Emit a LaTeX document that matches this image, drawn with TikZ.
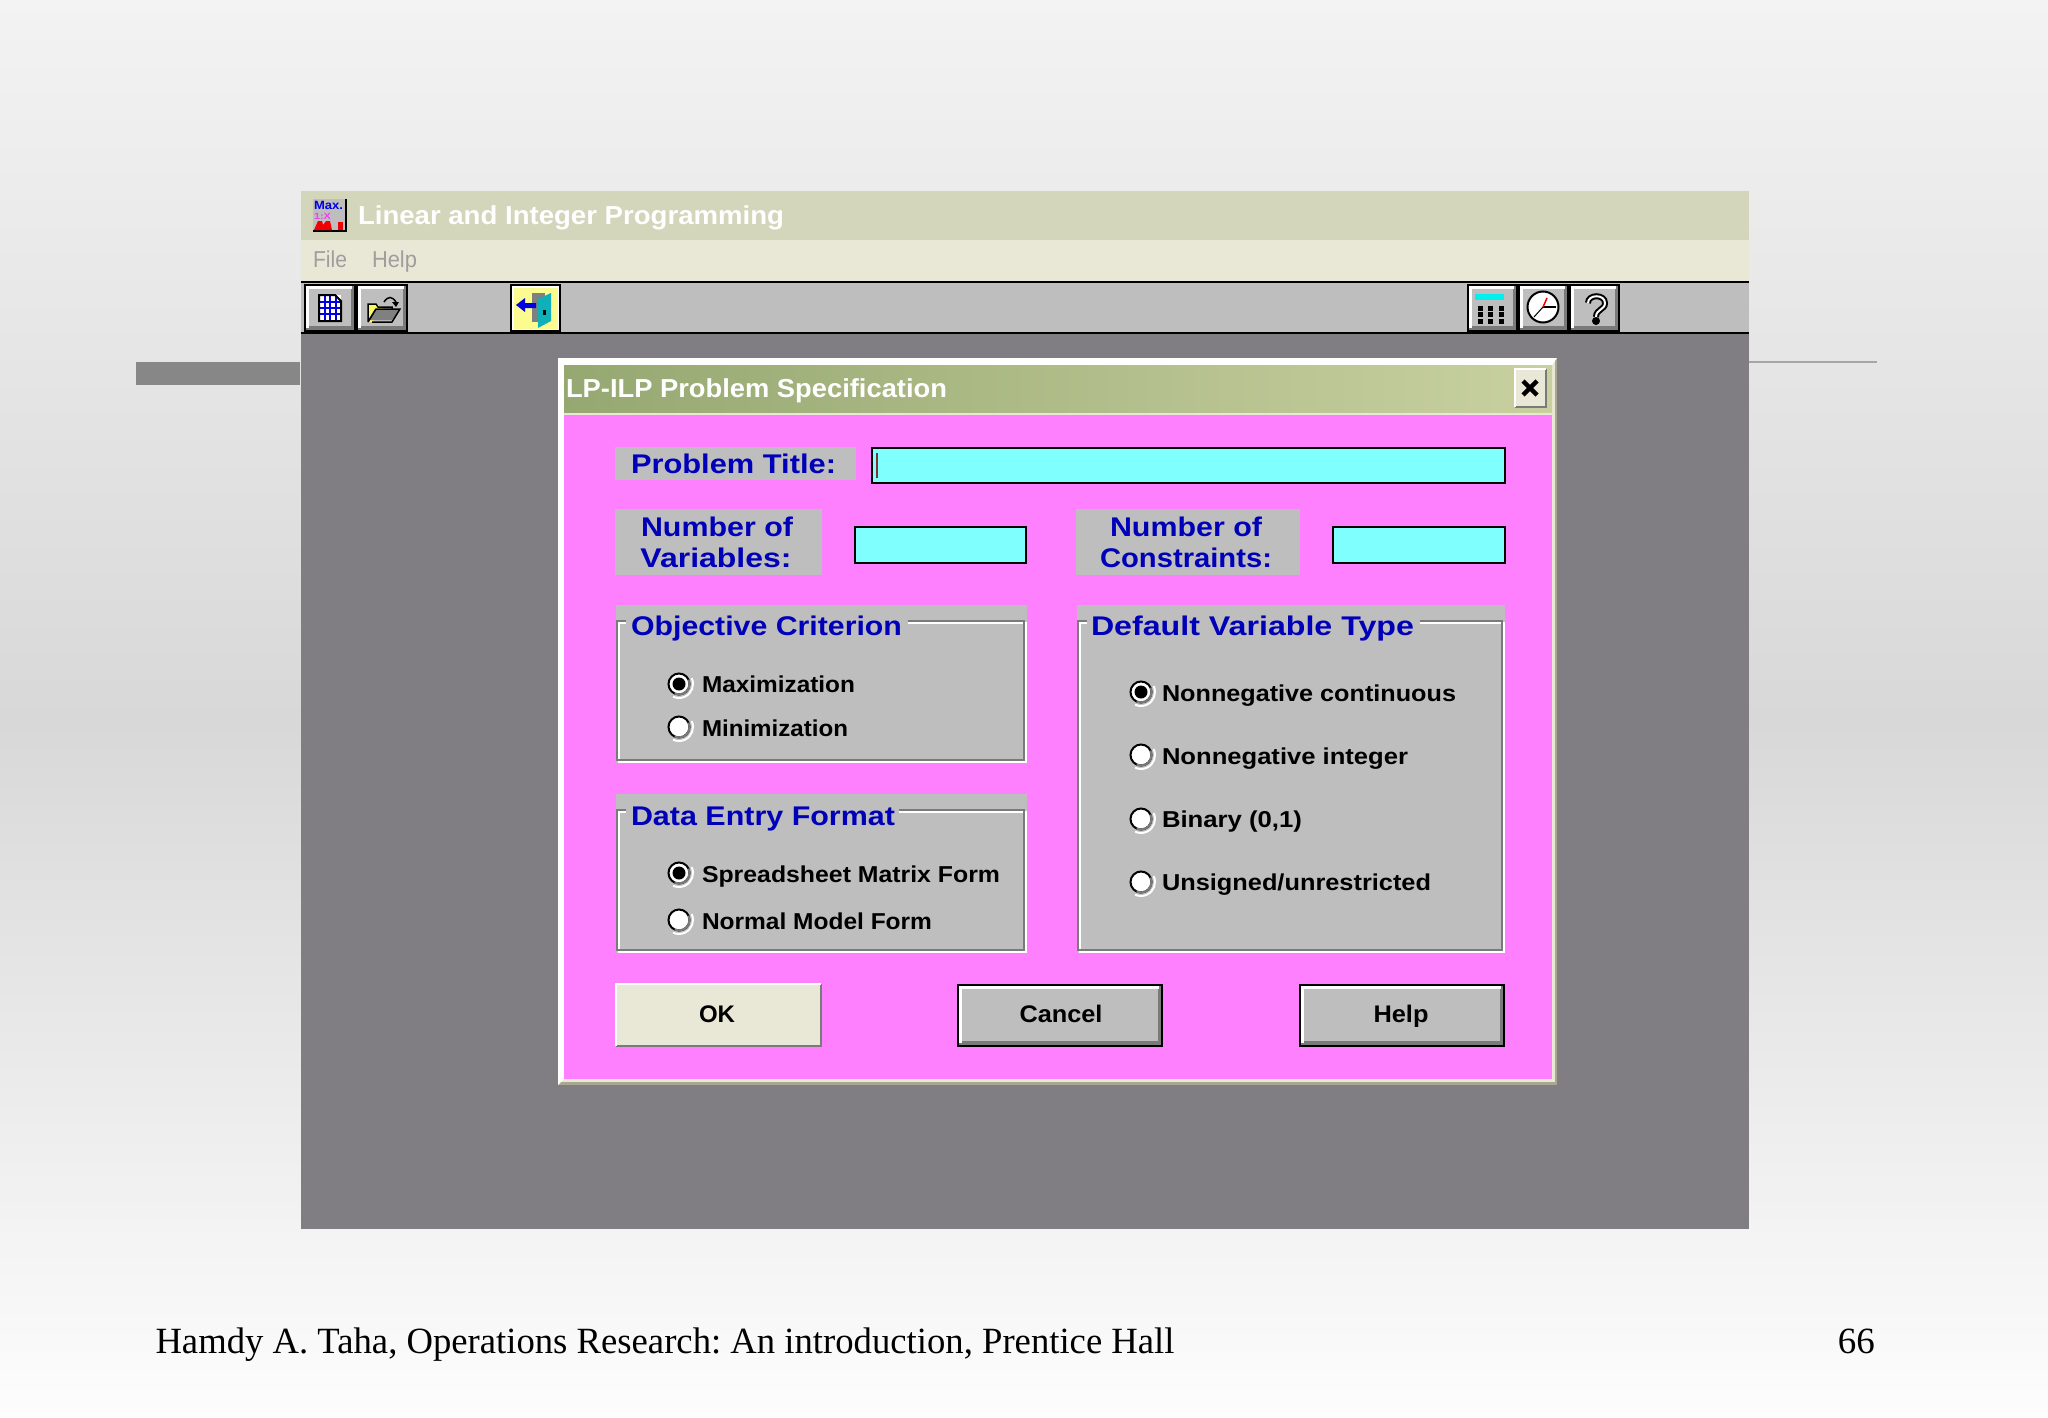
\documentclass[tikz,border=0pt]{standalone}
\usepackage{fontspec}
\usepackage{graphicx}
\setmainfont{Liberation Serif}
\newfontfamily\uifont{Liberation Sans}
\frenchspacing
\usetikzlibrary{positioning}
\definecolor{appgrey}{HTML}{BFBEBF}
\definecolor{deskgrey}{HTML}{807E82}
\definecolor{barolive}{HTML}{D3D6BB}
\definecolor{menucream}{HTML}{E9E8D6}
\definecolor{pagetop}{HTML}{F3F3F3}
\definecolor{pagegrey}{HTML}{D8D8D8}
\definecolor{pageend}{HTML}{FDFDFD}
\definecolor{dlgpink}{HTML}{FF80FF}
\definecolor{fieldcyan}{HTML}{80FFFF}
\definecolor{labelblue}{HTML}{0000B8}
\definecolor{shadegrey}{HTML}{7A7A7A}
\definecolor{dlgleft}{HTML}{96A872}
\definecolor{dlgright}{HTML}{C8D09F}
\definecolor{dlgedge}{HTML}{A8A790}
\definecolor{purecyan}{HTML}{00F0F0}
\definecolor{pureblue}{HTML}{0000E0}
\definecolor{purered}{HTML}{F00000}
\definecolor{puremag}{HTML}{F040F0}
\definecolor{doorteal}{HTML}{10B0B8}
\definecolor{paleyellow}{HTML}{FBFB90}
\definecolor{folderyellow}{HTML}{F8F860}
\definecolor{caretred}{HTML}{803030}
% text squeezed to the width it has in the window
\newcommand{\fitw}[2]{\resizebox{#1pt}{\height}{#2}}
\tikzset{
  x=1pt, y=-1pt,
  txt/.style={inner sep=0pt, outer sep=0pt, anchor=base west},
  ctxt/.style={inner sep=0pt, outer sep=0pt, anchor=base},
  bluetxt/.style={text=labelblue, font=\uifont\bfseries\fontsize{27}{27}\selectfont},
  radiotxt/.style={text=black, font=\uifont\bfseries\fontsize{23}{23}\selectfont},
  btntxt/.style={text=black, font=\uifont\bfseries\fontsize{24}{24}\selectfont},
  radio/.style={circle, draw=black, line width=2pt, fill=white, minimum size=21pt, inner sep=0pt},
  dot/.style={circle, fill=black, minimum size=13pt, inner sep=0pt},
  field/.style={draw=black, line width=2pt, fill=fieldcyan},
  hilite/.style={draw=white, line width=2.5pt},
  lowlite/.style={draw=shadegrey, line width=2.5pt},
}
% raised button: x1 y1 x2 y2 fill
\newcommand{\winbtn}[5]{
  \fill[#5] (#1,#2) rectangle (#3,#4);
  \draw[lowlite] (#3,#2) -- (#3,#4) -- (#1,#4);
  \draw[hilite] (#1,#4) -- (#1,#2) -- (#3,#2);
}
% black framed button on the toolbar or the dialog
\newcommand{\darkbtn}[4]{
  \fill[black] (#1-1,#2-1) rectangle (#3+1,#4+1);
  \fill[appgrey] (#1+1,#2+1) rectangle (#3-1,#4-1);
  \fill[shadegrey] (#1+1,#4-5) rectangle (#3-1,#4-1);
  \fill[shadegrey] (#3-4,#2+1) rectangle (#3-1,#4-1);
  \draw[white, line width=3pt] (#1+2.5,#4-3) -- (#1+2.5,#2+2.5) -- (#3-3,#2+2.5);
}
% group box: x1 top frame-top x2 bottom
\newcommand{\groupbox}[5]{
  \fill[appgrey] (#1,#2) rectangle (#4,#5);
  \draw[white, line width=2pt] (#1+3,#3+3) rectangle (#4-1,#5-1);
  \draw[shadegrey, line width=2.5pt] (#1+1,#3+1) rectangle (#4-3,#5-3);
}
% radio button with its sunken rim
\newcommand{\radiobtn}[3]{
  \draw[white, line width=2pt] (#2,#3) ++(-25:14) arc[start angle=-25, end angle=115, radius=14];
  \node[radio] (#1) at (#2,#3) {};
  \draw[shadegrey, line width=2pt] (#2,#3) ++(-25:10.5) arc[start angle=-25, end angle=115, radius=10.5];
}
\begin{document}
\begin{tikzpicture}
  \useasboundingbox (0,0) rectangle (2048,1418);

  % slide
  \shade[top color=pagetop, bottom color=pagegrey] (0,0) rectangle (2048,720);
  \shade[top color=pagegrey, bottom color=pageend] (0,720) rectangle (2048,1418);
  \fill[black!47] (136,362) rectangle (300,385);
  \draw[black!35, line width=1.5pt] (1749,362) -- (1877,362);

  % application window
  \fill[barolive] (301,191) rectangle (1749,240);
  \fill[menucream] (301,240) rectangle (1749,281);
  \fill[appgrey] (301,281) rectangle (1749,333);
  \fill[deskgrey] (301,333) rectangle (1749,1229);
  \draw[black, line width=2pt] (301,282) -- (1749,282);
  \draw[black, line width=2pt] (301,333) -- (1749,333);

  % application icon
  \fill[appgrey] (313,199) rectangle (346,231);
  \draw[black, line width=1.5pt] (313,231) -- (346,231) -- (346,199);
  \node[txt, text=pureblue, font=\uifont\bfseries\fontsize{12}{12}\selectfont] (iconmax) at (314,209) {\fitw{29}{Max.}};
  \node[txt, text=puremag, font=\uifont\bfseries\fontsize{9}{9}\selectfont] (iconmid) at (314,219) {\fitw{17}{1:X}};
  \fill[purered] (314,230) -- (318,221) -- (322,221) -- (323,225) -- (326,221) -- (330,221) -- (332,230) -- cycle;
  \fill[purered] (338,222) rectangle (343,230);

  \node[txt, text=white, font=\uifont\bfseries\fontsize{26}{26}\selectfont] (apptitle) at (358,224) {\fitw{426}{Linear and Integer Programming}};
  \node[txt, text=black!38, font=\uifont\fontsize{23}{23}\selectfont] (menufile) at (313,267) {\fitw{34}{File}};
  \node[txt, text=black!38, font=\uifont\fontsize{23}{23}\selectfont] (menuhelp) at (372,267) {\fitw{45}{Help}};

  % toolbar, left
  \darkbtn{305}{285}{355}{331}
  \darkbtn{357}{285}{407}{331}
  \fill[black] (510,284) rectangle (561,332);
  \fill[white] (512,286) rectangle (559,330);
  \fill[paleyellow] (514,288) rectangle (558,329);
  % sheet
  \fill[white] (319,295) rectangle (341,321);
  \draw[pureblue, line width=1.5pt] (319,302) -- (341,302) (319,308) -- (341,308) (319,314) -- (341,314)
    (325,295) -- (325,321) (330,295) -- (330,321) (336,295) -- (336,321);
  \draw[black, line width=2pt] (319,321) -- (319,295) -- (335,295) -- (341,301) -- (341,321) -- cycle;
  % folder
  \fill[folderyellow] (368,304) -- (376,304) -- (384,309) -- (372,322) -- (368,322) -- cycle;
  \fill[black!50] (375,309) -- (400,309) -- (392,320) -- (368,320) -- cycle;
  \draw[black, line width=1.5pt] (368,322) -- (368,304) -- (376,304) -- (378,307) -- (392,307) -- (392,309)
    (372,322) -- (392,322) -- (400,309) -- (376,309) -- (368,322);
  \draw[black, line width=1.5pt] (384,302) .. controls (388,296) and (392,296) .. (396,302);
  \fill[black] (392,302) -- (399,302) -- (396,307) -- cycle;
  % exit door
  \fill[black!50] (532,293) rectangle (545,322);
  \fill[doorteal] (538,299) -- (551,293) -- (551,321) -- (538,328) -- cycle;
  \fill[black] (543,310) rectangle (546,315);
  \fill[pureblue] (516,305) -- (525,298) -- (525,303) -- (536,303) -- (536,308) -- (525,308) -- (525,312) -- cycle;

  % toolbar, right
  \darkbtn{1468}{285}{1517}{331}
  \darkbtn{1519}{285}{1568}{331}
  \darkbtn{1570}{285}{1619}{331}
  \fill[purecyan] (1475,294) rectangle (1504,300);
  \foreach \px in {1480,1490,1501}
    \foreach \py in {308,314.5,321}
      \fill[black] (\px-2.5,\py-2.5) rectangle (\px+2.5,\py+2.5);
  \node[circle, draw=black, line width=2pt, fill=white, minimum size=31pt, inner sep=0pt] (clockface) at (1543,307) {};
  \draw[black, line width=1.5pt] (clockface.center) -- (1556,307);
  \draw[black, line width=1pt] (clockface.center) -- (1534,317);
  \draw[purered, line width=1.5pt] (clockface.center) -- (1547,298);
  \draw[black, line width=6pt] (1588,303) .. controls (1588,294) and (1605,294) .. (1605,303)
    .. controls (1605,310) and (1596,309) .. (1596,317);
  \draw[white, line width=2pt] (1588,303) .. controls (1588,294) and (1605,294) .. (1605,303)
    .. controls (1605,310) and (1596,309) .. (1596,317);
  \node[circle, fill=black, minimum size=8pt, inner sep=0pt] (helpdot) at (1596,321) {};

  % dialog
  \fill[dlgedge] (558,358) rectangle (1557,1085);
  \fill[menucream] (558,358) rectangle (1555,1082);
  \fill[white] (558,358) -- (1557,358) -- (1552,365) -- (564,365) -- (564,1079) -- (558,1085) -- cycle;
  \fill[dlgpink] (564,365) rectangle (1552,1079);
  \shade[left color=dlgleft, right color=dlgright] (564,365) rectangle (1552,413);
  \draw[menucream, line width=1.5pt] (564,414) -- (1552,414);
  \node[txt, text=white, font=\uifont\bfseries\fontsize{26}{26}\selectfont] (dlgtitle) at (566,397) {\fitw{381}{LP-ILP Problem Specification}};
  \winbtn{1515}{369}{1546}{407}{menucream}
  \draw[black, line width=4.5pt] (1523,381) -- (1537,395) (1537,381) -- (1523,395);

  % title row
  \fill[appgrey] (615,447) rectangle (856,480);
  \node[txt, bluetxt] (titlelabel) at (631,473) {\fitw{205}{Problem Title:}};
  \draw[field] (872,448) rectangle (1505,483);
  \draw[caretred, line width=1.5pt] (877,453) -- (877,478);

  % size row
  \fill[appgrey] (615,509) rectangle (822,575);
  \node[ctxt, bluetxt] (varlabela) at (717,536) {\fitw{152}{Number of}};
  \node[ctxt, bluetxt] (varlabelb) at (716,567) {\fitw{151}{Variables:}};
  \draw[field] (855,527) rectangle (1026,563);
  \fill[appgrey] (1076,509) rectangle (1300,575);
  \node[ctxt, bluetxt] (conlabela) at (1186,536) {\fitw{152}{Number of}};
  \node[ctxt, bluetxt] (conlabelb) at (1186,567) {\fitw{172}{Constraints:}};
  \draw[field] (1333,527) rectangle (1505,563);

  % objective
  \groupbox{616}{605}{620}{1027}{763}
  \fill[appgrey] (626,612) rectangle (908,630);
  \node[txt, bluetxt] (objlabel) at (631,635) {\fitw{271}{Objective Criterion}};
  \radiobtn{objmax}{679}{684}
  \node[dot] (objdot) at (objmax) {};
  \radiobtn{objmin}{679}{727}
  \node[txt, radiotxt] (objmaxtxt) at (702,692) {\fitw{153}{Maximization}};
  \node[txt, radiotxt] (objmintxt) at (702,736) {\fitw{146}{Minimization}};

  % data entry
  \groupbox{616}{794}{809}{1027}{953}
  \fill[appgrey] (626,801) rectangle (899,820);
  \node[txt, bluetxt] (datalabel) at (631,825) {\fitw{264}{Data Entry Format}};
  \radiobtn{datasheet}{679}{873}
  \node[dot] (datadot) at (datasheet) {};
  \radiobtn{datamodel}{679}{920}
  \node[txt, radiotxt] (datasheettxt) at (702,882) {\fitw{298}{Spreadsheet Matrix Form}};
  \node[txt, radiotxt] (datamodeltxt) at (702,929) {\fitw{230}{Normal Model Form}};

  % default variable type
  \groupbox{1077}{605}{620}{1505}{953}
  \fill[appgrey] (1087,612) rectangle (1420,630);
  \node[txt, bluetxt] (typelabel) at (1091,635) {\fitw{323}{Default Variable Type}};
  \radiobtn{typecont}{1141}{692}
  \node[dot] (typedot) at (typecont) {};
  \radiobtn{typeint}{1141}{755}
  \radiobtn{typebin}{1141}{819}
  \radiobtn{typefree}{1141}{882}
  \node[txt, radiotxt] (typeconttxt) at (1162,701) {\fitw{294}{Nonnegative continuous}};
  \node[txt, radiotxt] (typeinttxt) at (1162,764) {\fitw{246}{Nonnegative integer}};
  \node[txt, radiotxt] (typebintxt) at (1162,827) {\fitw{140}{Binary (0,1)}};
  \node[txt, radiotxt] (typefreetxt) at (1162,890) {\fitw{269}{Unsigned/unrestricted}};

  % buttons
  \winbtn{616}{984}{821}{1046}{menucream}
  \node[ctxt, btntxt] (oktxt) at (717,1022) {\fitw{36}{OK}};
  \darkbtn{958}{985}{1162}{1046}
  \node[ctxt, btntxt] (canceltxt) at (1061,1022) {\fitw{83}{Cancel}};
  \darkbtn{1300}{985}{1504}{1046}
  \node[ctxt, btntxt] (helptxt) at (1401,1022) {\fitw{55}{Help}};

  % footer
  \node[txt, font=\fontsize{37}{37}\selectfont] (source) at (155.5,1353) {\fitw{1019}{Hamdy A. Taha, Operations Research: An introduction, Prentice Hall}};
  \node[anchor=base east, inner sep=0pt, font=\fontsize{37}{37}\selectfont] (pageno) at (1875,1353) {66};
\end{tikzpicture}
\end{document}
